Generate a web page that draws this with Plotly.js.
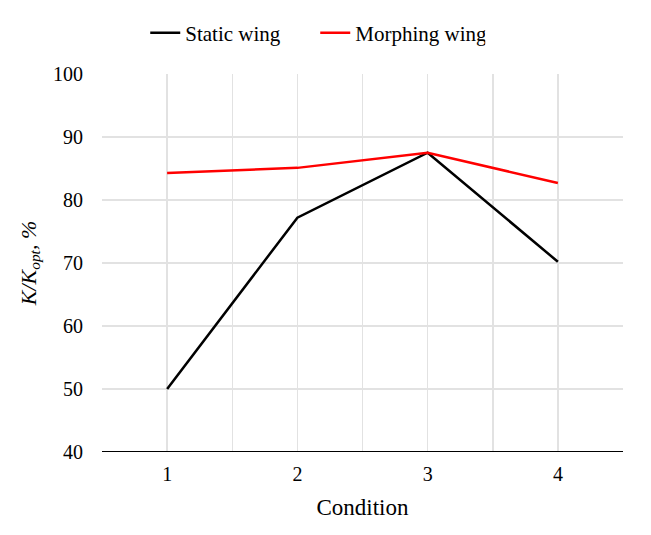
<!DOCTYPE html>
<html>
<head>
<meta charset="utf-8">
<script src="https://cdn.plot.ly/plotly-3.0.1.min.js"></script>
<style>
  html, body { margin: 0; padding: 0; background: #fff; }
  #chart { width: 651px; height: 535px; }
</style>
</head>
<body>
<div id="chart"></div>
<script>
// values
const conditions = [1, 2, 3, 4];
const staticWing = [50.0, 77.2, 87.5, 70.2];
const morphingWing = [84.3, 85.1, 87.5, 82.7];

const serif = "Liberation Serif, Times New Roman, serif";

const traces = [
  {
    x: conditions,
    y: staticWing,
    type: "scatter",
    mode: "lines",
    name: "Static wing",
    line: { color: "#000000", width: 2.5 },
  },
  {
    x: conditions,
    y: morphingWing,
    type: "scatter",
    mode: "lines",
    name: "Morphing wing",
    line: { color: "#ff0000", width: 2.5 },
  },
];

const layout = {
  width: 651,
  height: 535,
  paper_bgcolor: "#ffffff",
  plot_bgcolor: "#ffffff",
  margin: { l: 102, r: 28, t: 74, b: 83 },
  font: { family: serif, size: 20, color: "#000000" },
  showlegend: true,
  legend: {
    orientation: "h",
    x: 0.083,
    xanchor: "left",
    y: 1.108,
    yanchor: "middle",
    font: { family: serif, size: 21, color: "#000000" },
    entrywidth: 125,
  },
  xaxis: {
    range: [0.5, 4.5],
    tickvals: conditions,
    ticktext: conditions.map(String),
    showgrid: true,
    gridcolor: "#e2e2e2",
    gridwidth: 1.5,
    minor: { tickmode: "linear", tick0: 0.5, dtick: 1, showgrid: true, gridcolor: "#e2e2e2", gridwidth: 1.5 },
    zeroline: false,
    showline: false,
    ticks: "",
    ticklabelstandoff: 8,
    tickfont: { family: serif, size: 20, color: "#000000" },
    title: { text: "Condition", font: { family: serif, size: 23, color: "#000000" }, standoff: 14 },
    fixedrange: true,
  },
  yaxis: {
    range: [40, 100],
    dtick: 10,
    showgrid: true,
    gridcolor: "#e2e2e2",
    gridwidth: 1.5,
    zeroline: false,
    showline: false,
    ticks: "",
    ticklabelstandoff: 18,
    tickfont: { family: serif, size: 20, color: "#000000" },
    title: { text: "<i>K/K<sub>opt</sub>, %</i>", font: { family: serif, size: 22, color: "#000000" }, standoff: 10 },
    fixedrange: true,
  },
  shapes: [
    {
      type: "line",
      xref: "paper",
      yref: "y",
      x0: 0,
      x1: 1,
      y0: 40,
      y1: 40,
      line: { color: "#000000", width: 2 },
    },
  ],
};

Plotly.newPlot("chart", traces, layout, { displayModeBar: false, staticPlot: true });
</script>
</body>
</html>
